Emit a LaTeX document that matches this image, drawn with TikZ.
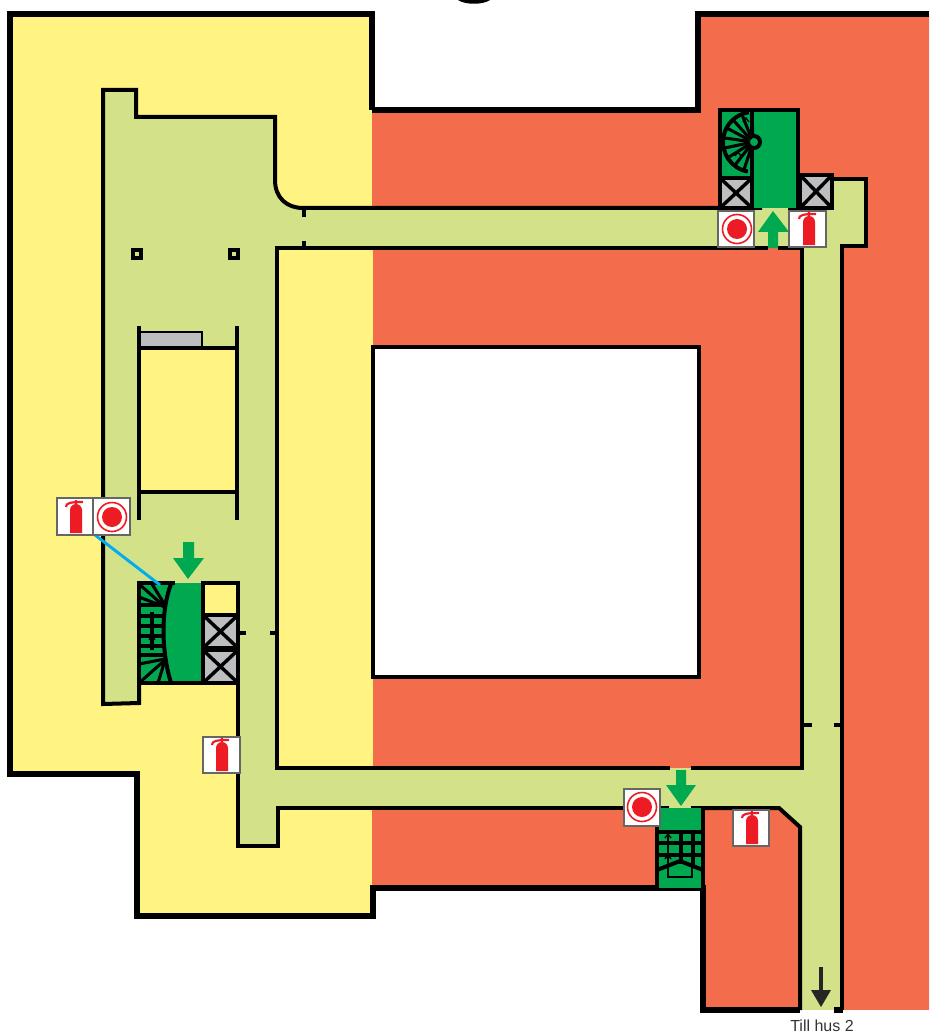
\documentclass[tikz,border=0pt]{standalone}
\usepackage{fontspec}
\setmainfont{Liberation Sans}
\definecolor{zoneyellow}{HTML}{FFF382}
\definecolor{zonered}{HTML}{F36C4C}
\definecolor{corridor}{HTML}{D3E288}
\definecolor{stairgreen}{HTML}{00A84F}
\definecolor{liftgray}{HTML}{BCBEC0}
\definecolor{signred}{HTML}{ED1C24}
\definecolor{leaderblue}{HTML}{00AEEF}
\begin{document}
\begin{tikzpicture}[
    x=0.75pt,y=-0.75pt,
    outerwall/.style={draw=black,line width=5.2pt},
    wall/.style={draw=black,line width=3pt},
    thinwall/.style={draw=black,line width=2pt},
    stairline/.style={draw=black,line width=2.3pt},
    stairmark/.style={draw=black,line width=1pt},
    exitarrow/.style={fill=stairgreen},
    sign/.style={draw=black!60,fill=white,line width=0.9pt},
    extinguisher/.pic={
        \fill[signred] (-6,-7) arc (180:360:6) -- (6,16) -- (-6,16) -- cycle;
        \draw[signred,line width=1.6pt] (0,-12) -- (0,-17) (-10,-10) .. controls (-10,-14) and (-6,-15) .. (7,-15);
    },
    alarm/.pic={
        \draw[signred,line width=1.2pt] (0,0) circle (14.5);
        \fill[signred] (0,0) circle (10);
    },
    liftbox/.style={fill=liftgray,draw=black,line width=3pt,
        path picture={\draw[black,line width=2.6pt]
            (path picture bounding box.north west) -- (path picture bounding box.south east)
            (path picture bounding box.north east) -- (path picture bounding box.south west);}},
    ]
    \useasboundingbox (0,0) rectangle (929,1034);
    % zones
    \fill[zoneyellow] (10,14) -- (372,14) -- (372,916) -- (137,916) -- (137,774) -- (10,774) -- cycle;
    \fill[zonered] (372,110) -- (698,110) -- (698,14) -- (929,14) -- (929,1010) -- (703,1010) -- (703,888) -- (372,888) -- cycle;
    % corridors
    \fill[corridor] (103,90) -- (136,90) -- (136,117) -- (275,117) -- (275,180)
        .. controls (275,198) and (287,208) .. (303,208) -- (798,208) -- (798,179) -- (866,179)
        -- (866,246) -- (842,246) -- (842,1010) -- (800,1010) -- (800,827) -- (779,808)
        -- (278,808) -- (278,846) -- (238,846) -- (238,683) -- (139,683) -- (139,703) -- (103,704) -- cycle;
    \fill[zoneyellow] (277,248) rectangle (373,768);
    \fill[zonered] (373,248) rectangle (802,768);
    \fill[zoneyellow] (139,348) rectangle (237,492);
    \fill[zoneyellow] (203,583) rectangle (238,683);
    \fill[white] (373,347) rectangle (699,677);
    \fill[white] (703,1010) rectangle (929,1034);
    % walls
    \draw[outerwall] (372,110) -- (372,14) -- (10,14) -- (10,774) -- (137,774) -- (137,916) -- (373,916) -- (373,888) -- (703,888) -- (703,1010) -- (800,1010);
    \draw[outerwall] (372,110) -- (698,110) -- (698,14) -- (929,14);
    \draw[outerwall] (834,1010) -- (843,1010);
    \draw[wall] (139,683) -- (139,703) -- (103,704) -- (103,90) -- (136,90) -- (136,117) -- (275,117) -- (275,180)
        .. controls (275,198) and (287,208) .. (303,208) -- (762,208);
    \draw[wall] (788,208) -- (798,208) (798,179) -- (866,179) -- (866,246) -- (842,246) -- (842,1010);
    \draw[wall] (768,248) -- (277,248) -- (277,768) -- (670,768) (691,768) -- (802,768) -- (802,248) -- (778,248);
    \draw[wall] (373,347) rectangle (699,677);
    \draw[wall] (669,808) -- (278,808) -- (278,846) -- (238,846) -- (238,683);
    \draw[wall] (691,808) -- (779,808) -- (800,827) -- (800,1010);
    % inner room
    \fill[liftgray] (139,332) rectangle (202,348);
    \draw[thinwall] (139,332) -- (202,332) -- (202,348);
    \draw[wall] (139,326) -- (139,520) (237,326) -- (237,520) (139,348) -- (237,348) (139,492) -- (237,492);
    % pillars
    \draw[wall] (132.5,249.5) rectangle (140.5,257.5);
    \draw[wall] (229.5,249.5) rectangle (237.5,257.5);
    % door ticks
    \draw[wall] (304,208) -- (304,217) (304,241) -- (304,248);
    \draw[wall] (238,633) -- (246,633) (270,633) -- (277,633);
    \draw[wall] (802,725) -- (812,725) (834,725) -- (842,725);
    % stair top right
    \fill[stairgreen] (720,110) rectangle (798,208);
    \foreach \a in {108,128,...,268} {\draw[stairline] (753,142) -- +(\a:30);}
    \draw[wall] (753,142) ++(100:30) arc (100:262:30);
    \draw[stairmark] (743,122) -- (746,118) -- (749,122) (735,156) -- (738,152) -- (741,156);
    \draw[wall] (720,178) -- (720,110) -- (798,110) -- (798,208);
    \draw[wall] (752,110) -- (752,208);
    \draw[wall,fill=stairgreen] (754,142) circle (6);
    \draw[liftbox] (720,178) rectangle (752,208);
    \draw[liftbox] (800,175) rectangle (832,208);
    % stair left
    \fill[stairgreen] (139,583) rectangle (203,683);
    \foreach \y in {605,616,626,636,646,655} {\draw[stairline] (139,\y) -- (165,\y);}
    \draw[stairline] (139,664) -- (165,659);
    \draw[stairline] (152,612) -- (152,650);
    \draw[stairmark] (149,640) -- (152,636) -- (155,640);
    \draw[stairline] (139,584) -- (165,607) (152,584) -- (165,605) (139,597) -- (165,607);
    \draw[stairline] (139,683) -- (165,660) (158,683) -- (165,660);
    \draw[wall] (171,584) .. controls (161,610) and (161,650) .. (171,683);
    \draw[wall] (175,583) -- (139,583) -- (139,683) -- (238,683) -- (238,583) -- (203,583) -- (203,683);
    \draw[liftbox] (203,615) rectangle (238,648);
    \draw[liftbox] (203,650) rectangle (238,683);
    % stair bottom
    \fill[stairgreen] (657,808) rectangle (703,888);
    \foreach \y in {832,843,855} {\draw[stairline] (657,\y) -- (703,\y);}
    \draw[stairline] (681,832) -- (681,864) (693,832) -- (693,866);
    \draw[stairmark] (668,835) -- (668,877) -- (692,877) -- (692,866);
    \draw[stairmark] (665,838) -- (668,834) -- (671,838) (665,859) -- (668,855) -- (671,859);
    \draw[wall] (657,870) -- (680,861) -- (703,870);
    \draw[wall] (657,826) -- (657,888) (703,808) -- (703,888);
    % leader line
    \draw[leaderblue,line width=2.2pt] (95,535) -- (160,585);
    % exit arrows
    \fill[exitarrow] (183,542) -- (194,542) -- (194,558) -- (204,558) -- (188,579) -- (173,558) -- (183,558) -- cycle;
    \fill[exitarrow] (768,248) -- (778,248) -- (778,232) -- (789,232) -- (773,211) -- (758,232) -- (768,232) -- cycle;
    \fill[exitarrow] (676,770) -- (686,770) -- (686,785) -- (696,785) -- (681,806) -- (666,785) -- (676,785) -- cycle;
    % signs
    \draw[sign] (57,498) rectangle (93,535);
    \pic at (76,517) {extinguisher};
    \draw[sign] (93,498) rectangle (130,535);
    \pic at (112,517) {alarm};
    \draw[sign] (718,211) rectangle (754,247);
    \pic at (737,229) {alarm};
    \draw[sign] (789,211) rectangle (826,247);
    \pic at (809,229) {extinguisher};
    \draw[sign] (203,737) rectangle (240,773);
    \pic at (222,755) {extinguisher};
    \draw[sign] (624,789) rectangle (660,826);
    \pic at (642,807) {alarm};
    \draw[sign] (733,810) rectangle (769,846);
    \pic at (752,828) {extinguisher};
    % way out
    \draw[black!85,line width=2.4pt] (821,967) -- (821,992);
    \fill[black!85] (811,990) -- (831,990) -- (821,1007) -- cycle;
    \node[font=\fontsize{12pt}{14pt}\selectfont,black!80] (till) at (822,1025.5) {Till hus 2};
    % remnant at the top edge
    \fill[black] (458,0) .. controls (465,5) and (483,5) .. (490,0) -- cycle;
\end{tikzpicture}
\end{document}
